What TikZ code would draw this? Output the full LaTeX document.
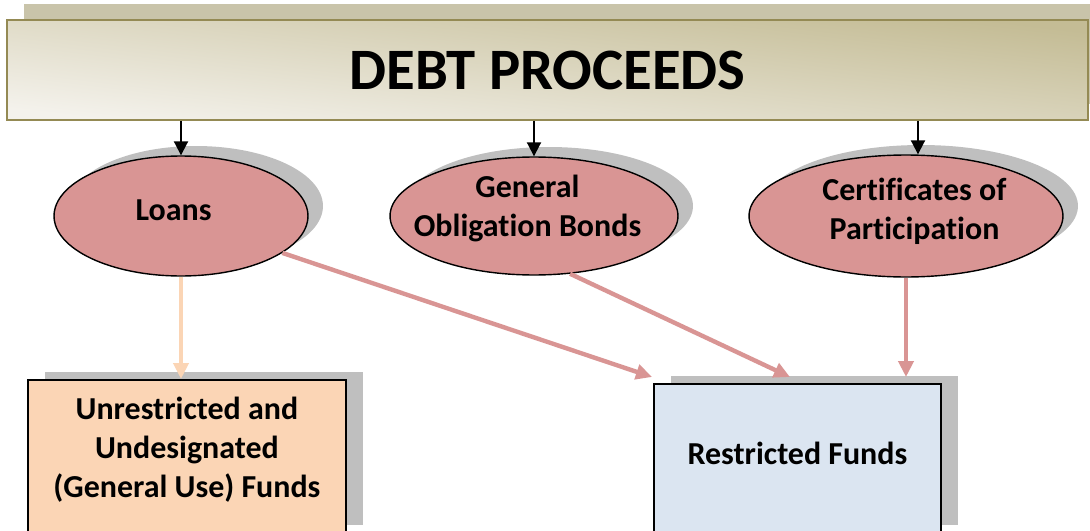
\documentclass[tikz,border=0pt]{standalone}
\usepackage{fontspec}
\setmainfont{Carlito}[Ligatures=NoCommon]
\usetikzlibrary{shapes.geometric,shadows,arrows.meta}
\definecolor{ovalred}{HTML}{D99594}
\definecolor{peach}{HTML}{FBD5B5}
\definecolor{paleblue}{HTML}{DBE5F1}
\definecolor{olive}{HTML}{948A54}
\definecolor{khaki}{HTML}{C4BC95}
\definecolor{cream}{HTML}{F4F2EC}
\definecolor{khakishadow}{HTML}{C9C4AA}
\definecolor{greyshadow}{HTML}{BFBFBF}
\begin{document}
\begin{tikzpicture}[x=0.02cm,y=-0.02cm,>={Triangle[length=.28cm,width=.28cm]},
		banner/.style={rectangle,draw=olive,line width=1.1pt,bottom color=cream,top color=khaki,shading angle=-7,
			minimum width=21.62cm,minimum height=2cm,font=\bfseries\fontsize{33.4}{40}\selectfont,
			drop shadow={shadow xshift=.34cm,shadow yshift=.32cm,fill=khakishadow,opacity=1}},
		oval/.style={ellipse,draw,line width=.8pt,fill=ovalred,inner sep=-2cm,align=center,
			font=\bfseries\fontsize{18.2}{22.3}\selectfont,
			drop shadow={shadow xshift=.3cm,shadow yshift=.2cm,fill=greyshadow,opacity=1}},
		fund/.style={rectangle,draw,line width=1.1pt,inner sep=0pt,align=center,anchor=north west,
			font=\bfseries\fontsize{18.2}{22.3}\selectfont,
			drop shadow={shadow xshift=.34cm,shadow yshift=.16cm,fill=greyshadow,opacity=1}},
		link/.style={->,line width=2.5pt,draw=ovalred,>={Triangle[length=.32cm,width=.3cm]}}]
	\useasboundingbox (0,0) rectangle (1090,531);
	\clip (0,0) rectangle (1090,531);
	\node[banner] (debt) at (547.5,70) {DEBT PROCEEDS};
	%===========================================
	\node[oval,minimum width=5.08cm,minimum height=2.4cm,text depth=.24cm] (loans) at (181,216)
		{Loans\hspace*{.3cm}};
	\node[oval,minimum width=5.76cm,minimum height=2.36cm,text depth=.4cm] (gob) at (534,216)
		{General\hspace*{.26cm}\\Obligation Bonds\hspace*{.26cm}};
	\node[oval,minimum width=6.28cm,minimum height=2.44cm,text depth=.29cm] (cop) at (906,216)
		{\hspace*{.34cm}Certificates of\\\hspace*{.34cm}Participation};
	\foreach \n in {loans,gob}
		\draw[->,line width=1.1pt] (debt.south -| \n.north) -- (\n.north);
	\draw[->,line width=1.1pt] ([xshift=.24cm]cop.north |- debt.south) -- ([xshift=.24cm]cop.north);
	%===========================================
	\node[fund,fill=peach,minimum width=6.36cm,minimum height=3.06cm,text depth=.36cm] (unres) at (27,379)
		{Unrestricted and\\Undesignated\\(General Use) Funds};
	\node[fund,fill=paleblue,minimum width=5.74cm,minimum height=2.98cm,text depth=.2cm] (rest) at (653,383) {Restricted Funds};
	\coordinate (rtop) at ([yshift=.12cm]rest.north);
	\draw[link] (loans.-20) -- ([shift={(-1,-6)}]rest.north west);
	\draw[link] (gob.-58) -- ([shift={(137,-6)}]rest.north west);
	\draw[link] (cop.south) -- (cop.south |- rtop);
	\draw[link,draw=peach] (loans.south) -- (loans.south |- unres.north);
\end{tikzpicture}
\end{document}
